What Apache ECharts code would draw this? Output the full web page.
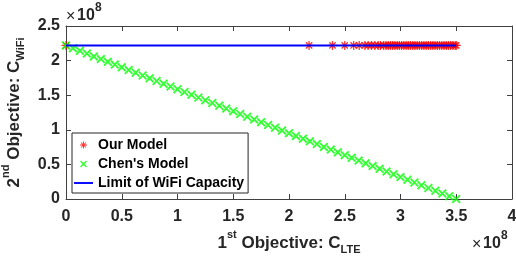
<!DOCTYPE html>
<html>
<head>
<meta charset="utf-8">
<script src="https://cdn.jsdelivr.net/npm/echarts@6/dist/echarts.min.js"></script>
<style>
html, body { margin: 0; padding: 0; background: #fff; }
#chart { width: 516px; height: 258px; }
</style>
</head>
<body>
<div id="chart"></div>
<script>
// values in units of 1e8
const xTicks = ['0', '0.5', '1', '1.5', '2', '2.5', '3', '3.5', '4']
const yTicks = ['0', '0.5', '1', '1.5', '2', '2.5']

const ourModelX = [0, 2.18, 2.39, 2.50, 2.58, 2.63, 2.68, 2.71, 2.74, 2.77, 2.80, 2.82, 2.85, 2.87, 2.89, 2.91,
    2.93, 2.95, 2.97, 2.99, 3.01, 3.03, 3.05, 3.07, 3.09, 3.11, 3.13, 3.15, 3.17, 3.19, 3.21, 3.23, 3.25,
    3.27, 3.29, 3.31, 3.33, 3.35, 3.37, 3.39, 3.41, 3.43, 3.45, 3.47, 3.49, 3.50]
const ourModelY = [2.22, 2.22, 2.22, 2.22, 2.22, 2.22, 2.22, 2.22, 2.22, 2.22, 2.22, 2.22, 2.22, 2.22, 2.22, 2.22,
    2.22, 2.22, 2.22, 2.22, 2.22, 2.22, 2.22, 2.22, 2.22, 2.22, 2.22, 2.22, 2.22, 2.22, 2.22, 2.22, 2.22,
    2.22, 2.22, 2.22, 2.22, 2.22, 2.22, 2.22, 2.22, 2.22, 2.22, 2.22, 2.22, 2.22]

const chenX = [0, 0.0625, 0.125, 0.1875, 0.25, 0.3125, 0.375, 0.4375, 0.5, 0.5625, 0.625, 0.6875, 0.75, 0.8125,
    0.875, 0.9375, 1.0, 1.0625, 1.125, 1.1875, 1.25, 1.3125, 1.375, 1.4375, 1.5, 1.5625, 1.625, 1.6875, 1.75,
    1.8125, 1.875, 1.9375, 2.0, 2.0625, 2.125, 2.1875, 2.25, 2.3125, 2.375, 2.4375, 2.5, 2.5625, 2.625, 2.6875,
    2.75, 2.8125, 2.875, 2.9375, 3.0, 3.0625, 3.125, 3.1875, 3.25, 3.3125, 3.375, 3.4375, 3.5]
const chenY = [2.22, 2.180, 2.141, 2.101, 2.061, 2.022, 1.982, 1.942, 1.903, 1.863, 1.824, 1.784, 1.744, 1.705,
    1.665, 1.625, 1.586, 1.546, 1.506, 1.467, 1.427, 1.387, 1.348, 1.308, 1.269, 1.229, 1.189, 1.150, 1.110,
    1.070, 1.031, 0.991, 0.951, 0.912, 0.872, 0.833, 0.793, 0.753, 0.714, 0.674, 0.634, 0.595, 0.555, 0.515,
    0.476, 0.436, 0.396, 0.357, 0.317, 0.278, 0.238, 0.198, 0.159, 0.119, 0.079, 0.040, 0]

const limitX = [0, 3.5]
const limitY = [2.22, 2.22]

const FONT = 'Liberation Sans, Arial, Helvetica, sans-serif'

// matlab style markers (filled outlines of thin bars)
const starPath = 'path://M-1,-0.14L1,-0.14L1,0.14L-1,0.14Z M-0.14,-1L0.14,-1L0.14,1L-0.14,1Z ' +
    'M-0.608,-0.806L0.806,0.608L0.608,0.806L-0.806,-0.608Z M-0.806,0.608L0.608,-0.806L0.806,-0.608L-0.608,0.806Z'
const crossPath = 'path://M-0.58,-0.82L0.82,0.58L0.58,0.82L-0.82,-0.58Z M-0.82,0.58L0.58,-0.82L0.82,-0.58L-0.58,0.82Z'
const linePath = 'path://M0,0L20,0L20,2L0,2Z'

function pairs(xs, ys) {
    return xs.map((x, i) => [x, ys[i]])
}

const axisColor = '#404040'

const tickFmt = (list) => (v) => {
    let s = list.find(t => Math.abs(parseFloat(t) - v) < 1e-9)
    return s === undefined ? '' : s
}

const titleRich = {
    n: { fontFamily: FONT, fontWeight: 'bold', fontSize: 17, color: '#262626', lineHeight: 26, verticalAlign: 'middle' },
    sup: { fontFamily: FONT, fontWeight: 'bold', fontSize: 11, color: '#262626', verticalAlign: 'top' },
    sub: { fontFamily: FONT, fontWeight: 'bold', fontSize: 11, color: '#262626', verticalAlign: 'bottom' }
}

// "x10^8" exponent labels
function expLabel(x, y) {
    return [
        { type: 'text', x: x, y: y + 3, style: { text: '×', fontSize: 16, fontFamily: FONT, fill: '#262626' } },
        { type: 'text', x: x + 11, y: y + 2, style: { text: '10', fontSize: 16, fontWeight: 'bold', fontFamily: FONT, fill: '#262626' } },
        { type: 'text', x: x + 29, y: y - 4, style: { text: '8', fontSize: 12, fontWeight: 'bold', fontFamily: FONT, fill: '#262626' } }
    ]
}

let myChart = echarts.init(document.getElementById('chart'))
myChart.setOption({
    animation: false,
    grid: {
        left: 66,
        right: 4,
        top: 26,
        bottom: 59,
        outerBoundsMode: 'none'
    },
    legend: {
        orient: 'vertical',
        left: 72,
        top: 133,
        padding: [5, 4, 3, 2],
        itemGap: 5,
        itemWidth: 19,
        itemHeight: 7,
        backgroundColor: '#fff',
        borderColor: '#262626',
        borderWidth: 1,
        borderRadius: 0,
        textStyle: {
            fontFamily: FONT,
            fontWeight: 'bold',
            fontSize: 14,
            color: '#000'
        },
        data: [
            { name: 'Our Model', icon: starPath },
            { name: "Chen's Model", icon: crossPath },
            { name: 'Limit of WiFi Capacity', icon: linePath }
        ]
    },
    xAxis: [
        {
            type: 'value',
            min: 0,
            max: 4,
            interval: 0.5,
            name: '{n|1}{sup|st}{n| Objective: C}{sub|LTE}',
            nameLocation: 'middle',
            nameGap: 30,
            nameTextStyle: { rich: titleRich },
            axisLine: { onZero: false, lineStyle: { color: axisColor, width: 1 } },
            axisTick: { inside: true, length: 5, lineStyle: { color: axisColor } },
            splitLine: { show: false },
            axisLabel: {
                margin: 10,
                fontFamily: FONT,
                fontWeight: 'bold',
                fontSize: 16,
                color: '#262626',
                formatter: tickFmt(xTicks)
            }
        },
        {
            type: 'value',
            position: 'top',
            min: 0,
            max: 4,
            interval: 0.5,
            axisLine: { onZero: false, lineStyle: { color: axisColor, width: 1 } },
            axisTick: { inside: true, length: 5, lineStyle: { color: axisColor } },
            axisLabel: { show: false },
            splitLine: { show: false }
        }
    ],
    yAxis: [
        {
            type: 'value',
            min: 0,
            max: 2.5,
            interval: 0.5,
            name: '{n|2}{sup|nd}{n| Objective: C}{sub|WiFi}',
            nameLocation: 'middle',
            nameRotate: 90,
            nameGap: 33,
            nameTextStyle: { rich: titleRich },
            axisLine: { show: true, onZero: false, lineStyle: { color: axisColor, width: 1 } },
            axisTick: { show: true, inside: true, length: 5, lineStyle: { color: axisColor } },
            splitLine: { show: false },
            axisLabel: {
                margin: 6,
                fontFamily: FONT,
                fontWeight: 'bold',
                fontSize: 16,
                color: '#262626',
                formatter: tickFmt(yTicks)
            }
        },
        {
            type: 'value',
            position: 'right',
            min: 0,
            max: 2.5,
            interval: 0.5,
            axisLine: { show: true, onZero: false, lineStyle: { color: axisColor, width: 1 } },
            axisTick: { show: true, inside: true, length: 5, lineStyle: { color: axisColor } },
            axisLabel: { show: false },
            splitLine: { show: false }
        }
    ],
    graphic: expLabel(66, 6).concat(expLabel(472, 234)),
    series: [
        {
            name: 'Our Model',
            type: 'scatter',
            symbol: starPath,
            symbolSize: 9,
            itemStyle: { color: '#ff0000' },
            data: pairs(ourModelX, ourModelY)
        },
        {
            name: "Chen's Model",
            type: 'scatter',
            symbol: crossPath,
            symbolSize: 9,
            itemStyle: { color: '#00ff00' },
            data: pairs(chenX, chenY)
        },
        {
            name: 'Limit of WiFi Capacity',
            type: 'line',
            symbol: 'none',
            lineStyle: { color: '#0000ff', width: 2 },
            itemStyle: { color: '#0000ff' },
            data: pairs(limitX, limitY)
        }
    ]
})
</script>
</body>
</html>
